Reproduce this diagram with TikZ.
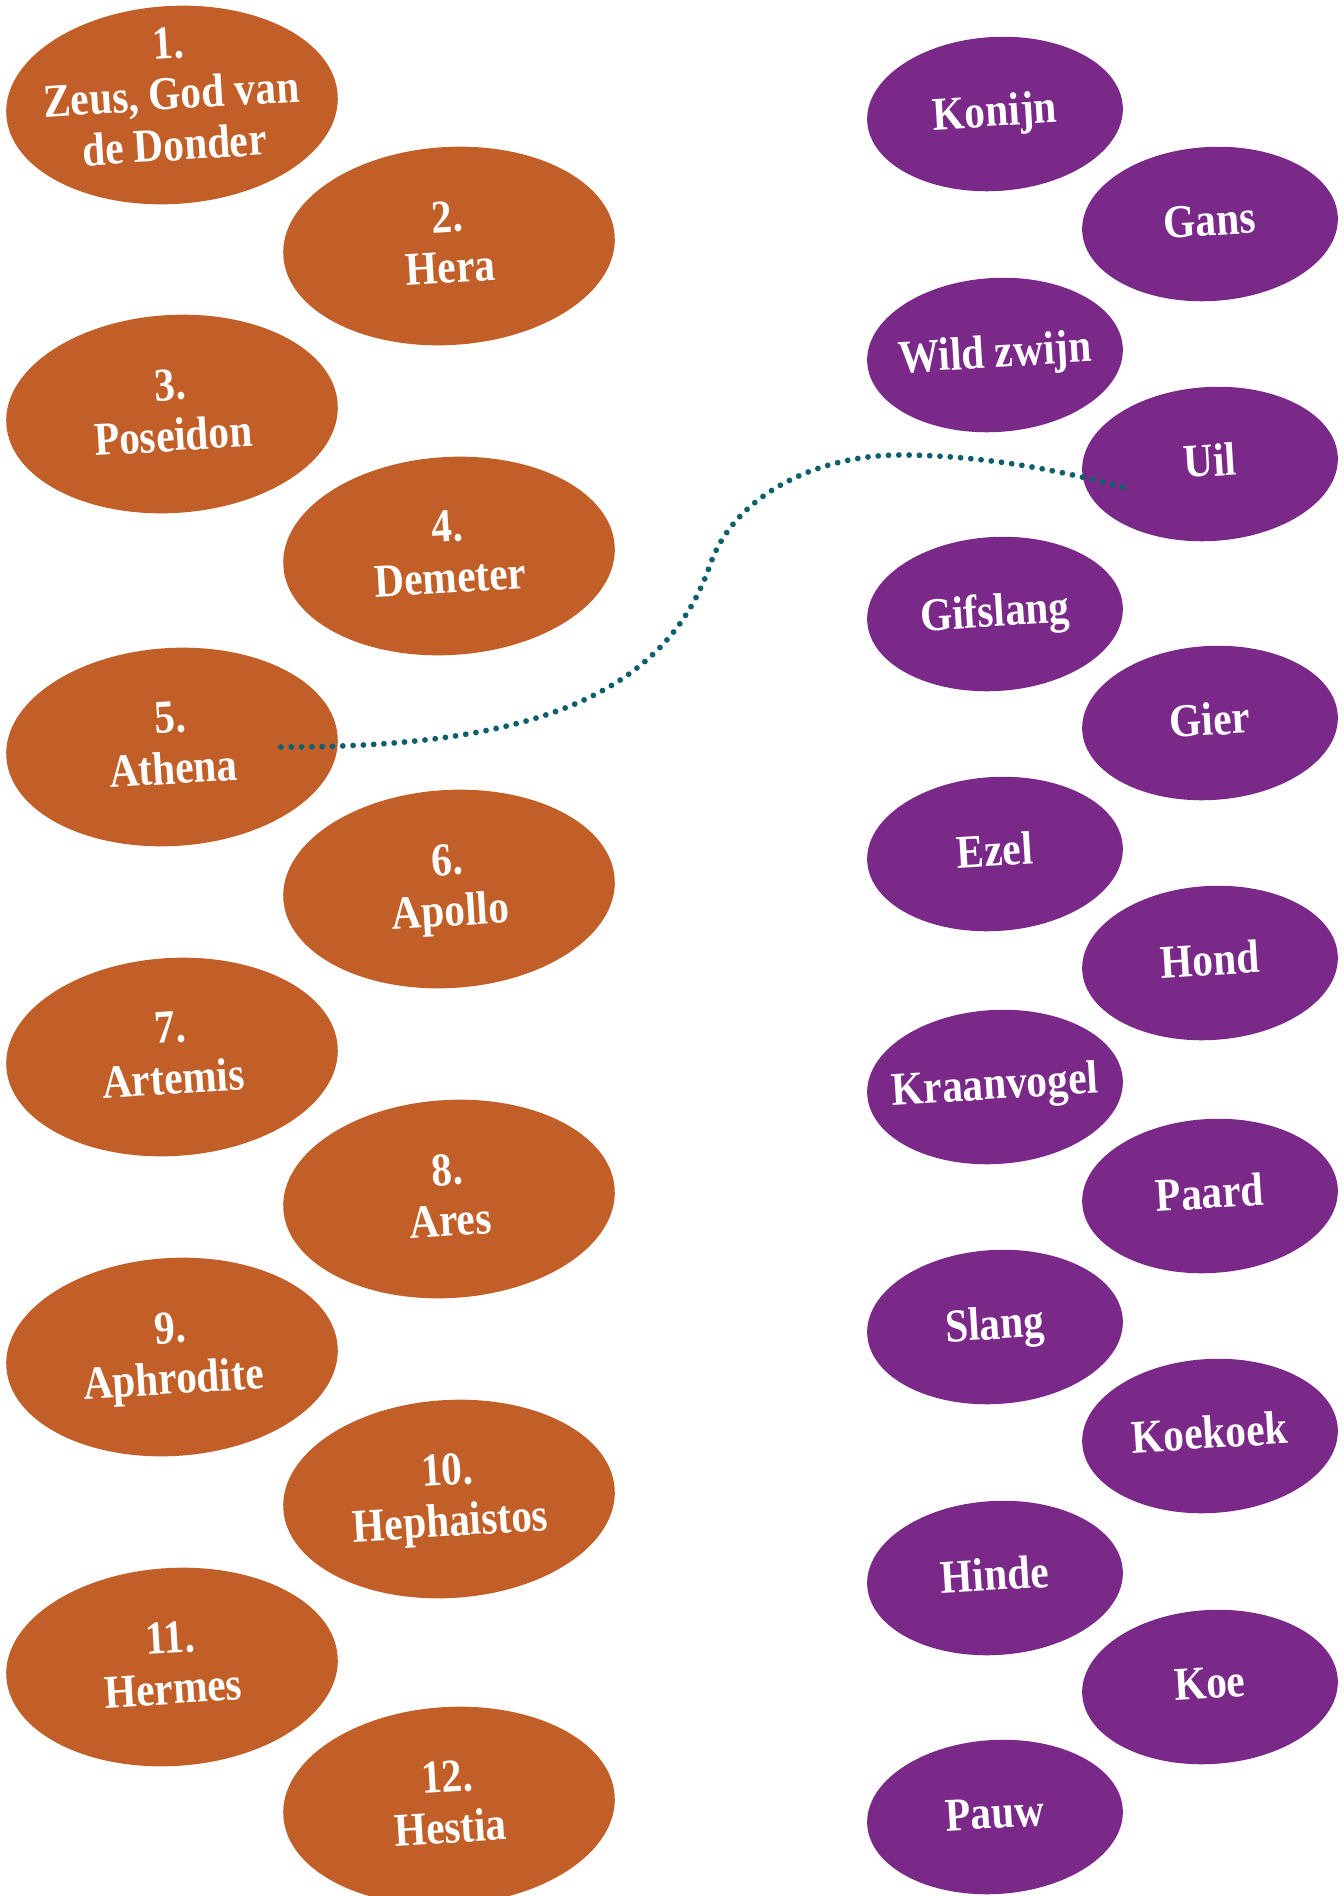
\documentclass[tikz,border=0pt]{standalone}
\usepackage{fontspec}
\newfontfamily\lblfont[FakeStretch=0.88]{Liberation Serif}
\usetikzlibrary{shapes.geometric}
\definecolor{godorange}{HTML}{C25F28}
\definecolor{animalpurple}{HTML}{7A2989}
\definecolor{linkteal}{HTML}{0E5F6E}
\tikzset{
  base/.style={ellipse, inner sep=-30pt, rotate=3.5, text=white, align=center,
    text depth=4pt, font=\lblfont\bfseries\fontsize{23.5}{25.5}\selectfont},
  god/.style={base, fill=godorange, minimum width=166pt, minimum height=99pt},
  animal/.style={base, fill=animalpurple, minimum width=128pt, minimum height=77pt},
  link/.style={draw=linkteal, line width=2.9pt, line cap=round, dash pattern=on 0pt off 5.15pt}
}
\begin{document}
\begin{tikzpicture}[x=0.5pt,y=0.5pt]
\useasboundingbox (0,0) rectangle (1344,-1896);
% gods
\node[god, text depth=11pt] (g1)  at (172,-105)  {1.\\Zeus, God van\\de Donder};
\node[god] (g2)  at (449,-246)  {2.\\Hera};
\node[god] (g3)  at (172,-414)  {3.\\Poseidon};
\node[god] (g4)  at (449,-556)  {4.\\Demeter};
\node[god] (g5)  at (172,-747)  {5.\\Athena};
\node[god] (g6)  at (449,-889)  {6.\\Apollo};
\node[god] (g7)  at (172,-1057) {7.\\Artemis};
\node[god] (g8)  at (449,-1199) {8.\\Ares};
\node[god] (g9)  at (172,-1357) {9.\\Aphrodite};
\node[god] (g10) at (449,-1499) {10.\\Hephaistos};
\node[god] (g11) at (172,-1667) {11.\\Hermes};
\node[god] (g12) at (449,-1806) {12.\\Hestia};
% animals
\node[animal] (a1)  at (995,-114)  {Konijn};
\node[animal] (a2)  at (1210,-224) {Gans};
\node[animal] (a3)  at (995,-355)  {Wild zwijn};
\node[animal] (a4)  at (1210,-464) {Uil};
\node[animal] (a5)  at (995,-614)  {Gifslang};
\node[animal] (a6)  at (1210,-723) {Gier};
\node[animal] (a7)  at (995,-854)  {Ezel};
\node[animal] (a8)  at (1210,-963) {Hond};
\node[animal] (a9)  at (995,-1087) {Kraanvogel};
\node[animal] (a10) at (1210,-1196) {Paard};
\node[animal] (a11) at (995,-1327) {Slang};
\node[animal] (a12) at (1210,-1436) {Koekoek};
\node[animal] (a13) at (995,-1578) {Hinde};
\node[animal] (a14) at (1210,-1687) {Koe};
\node[animal] (a15) at (995,-1817) {Pauw};
% connector
\path (g5.center) ++(109,0) coordinate (cs);
\path (a4.center) ++(-84,-24) coordinate (ce);
\draw[link] (cs) .. controls (500,-747) and (660,-710) .. (710,-565)
  .. controls (735,-493) and (820,-455) .. (900,-455)
  .. controls (980,-455) and (1060,-470) .. (ce);
\end{tikzpicture}
\end{document}
